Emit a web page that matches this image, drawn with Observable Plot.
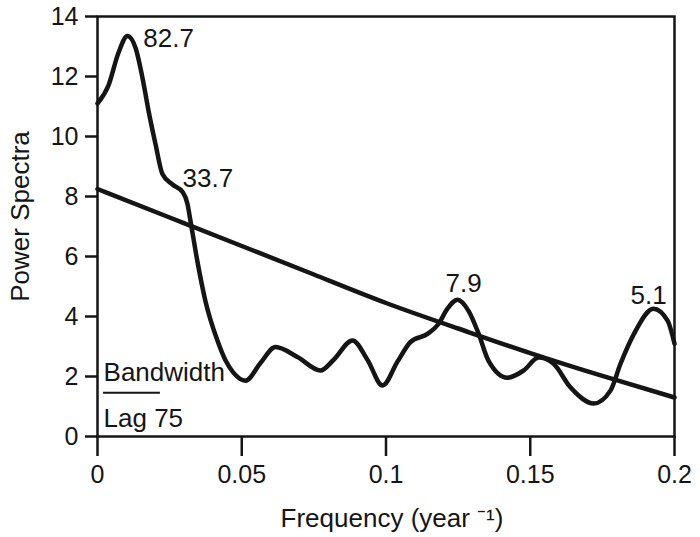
<!DOCTYPE html>
<html><head><meta charset="utf-8">
<script src="https://cdn.jsdelivr.net/npm/d3@7"></script>
<script src="https://cdn.jsdelivr.net/npm/@observablehq/plot@0.6"></script>
<style>body{margin:0;background:#fff;}</style>
</head><body><div id="chart"></div>
<script>
// Spectrum curve (frequency, power)
const freq = [0, 0.0038, 0.0073, 0.0104, 0.0132, 0.0156, 0.0177, 0.0201, 0.0225, 0.026, 0.0295, 0.0312, 0.0322, 0.0347, 0.0374, 0.0416, 0.0444, 0.0471, 0.0513, 0.0565, 0.0617, 0.0693, 0.0773, 0.0818, 0.0884, 0.0936, 0.0988, 0.104, 0.1085, 0.1144, 0.1182, 0.1213, 0.1248, 0.1286, 0.1321, 0.1355, 0.1421, 0.1477, 0.1529, 0.158, 0.164, 0.172, 0.1778, 0.1813, 0.186, 0.1927, 0.1976, 0.2];
const power = [11.1, 11.7, 12.8, 13.35, 12.95, 11.95, 10.85, 9.75, 8.75, 8.4, 8.15, 7.75, 7.2, 5.8, 4.52, 3.19, 2.53, 2.13, 1.86, 2.45, 2.98, 2.65, 2.2, 2.55, 3.2, 2.55, 1.7, 2.5, 3.15, 3.42, 3.75, 4.26, 4.56, 4.19, 3.43, 2.53, 1.96, 2.2, 2.63, 2.43, 1.63, 1.1, 1.53, 2.43, 3.43, 4.26, 3.86, 3.09];
// Red-noise reference curve
const noiseFreq = [0, 0.025, 0.05, 0.075, 0.1, 0.125, 0.15, 0.175, 0.2];
const noisePower = [8.25, 7.3, 6.35, 5.4, 4.45, 3.6, 2.78, 2.02, 1.3];
// Peak period labels
const peakLabels = ["82.7", "33.7", "7.9", "5.1"];
const peakFreq = [0.0159, 0.0295, 0.1269, 0.191];
const peakPower = [13.27, 8.6, 5.09, 4.69];
const peakAnchor = ["start", "start", "middle", "middle"];
// Bandwidth marker
const bwLabels = ["Bandwidth", "Lag 75"];
const bwLabelPower = [2.13, 0.6];
const bwFreq = [0.0021, 0.0218];
const bwPower = 1.46;
// Axes
const yTicks = [0, 2, 4, 6, 8, 10, 12, 14];
const xTicks = [0, 0.05, 0.1, 0.15, 0.2];
const xTickLabels = ["0", "0.05", "0.1", "0.15", "0.2"];
const xLabel = "Frequency (year \u207B\u00B9)";
const yLabel = "Power Spectra";

const spectrum = freq.map((f, i) => ({f, p: power[i]}));
const noise = noiseFreq.map((f, i) => ({f, p: noisePower[i]}));
const peaks = peakLabels.map((t, i) => ({t, f: peakFreq[i], p: peakPower[i], a: peakAnchor[i]}));
const bw = bwLabels.map((t, i) => ({t, f: bwFreq[0], p: bwLabelPower[i]}));

const font = "'Liberation Sans', Arial, sans-serif";
const chart = Plot.plot({
  width: 700, height: 537,
  marginLeft: 97, marginRight: 26, marginTop: 16, marginBottom: 101,
  style: {fontFamily: font, fontSize: "25px", color: "#151515", background: "#fff"},
  x: {domain: [0, 0.2]},
  y: {domain: [0, 14]},
  marks: [
    Plot.frame({strokeWidth: 2.5}),
    Plot.axisY({ticks: yTicks, tickSize: 12, tickPadding: 7, label: null, fontSize: 25, strokeWidth: 2.5}),
    Plot.axisX({ticks: xTicks, tickFormat: (d) => xTickLabels[xTicks.indexOf(d)], tickSize: 20, tickPadding: 9, label: null, fontSize: 25, strokeWidth: 2.5}),
    Plot.line(noise, {x: "f", y: "p", curve: "natural", strokeWidth: 4.5}),
    Plot.line(spectrum, {x: "f", y: "p", curve: "monotone-x", strokeWidth: 4.5}),
    Plot.text(peaks.filter(d => d.a === "start"), {x: "f", y: "p", text: "t", textAnchor: "start", fontSize: 26}),
    Plot.text(peaks.filter(d => d.a === "middle"), {x: "f", y: "p", text: "t", textAnchor: "middle", fontSize: 26}),
    Plot.text(bw, {x: "f", y: "p", text: "t", textAnchor: "start", fontSize: 26}),
    Plot.ruleY([bwPower], {x1: bwFreq[0], x2: bwFreq[1], strokeWidth: 2}),
    Plot.text([xLabel], {frameAnchor: "bottom", textAnchor: "middle", lineAnchor: "middle", dx: 6, dy: 82, text: d => d, fontSize: 26}),
    Plot.text([yLabel], {frameAnchor: "left", textAnchor: "middle", lineAnchor: "middle", dx: -77, dy: -10, rotate: -90, text: d => d, fontSize: 26})
  ]
});
document.getElementById("chart").append(chart);
</script>
</body></html>
